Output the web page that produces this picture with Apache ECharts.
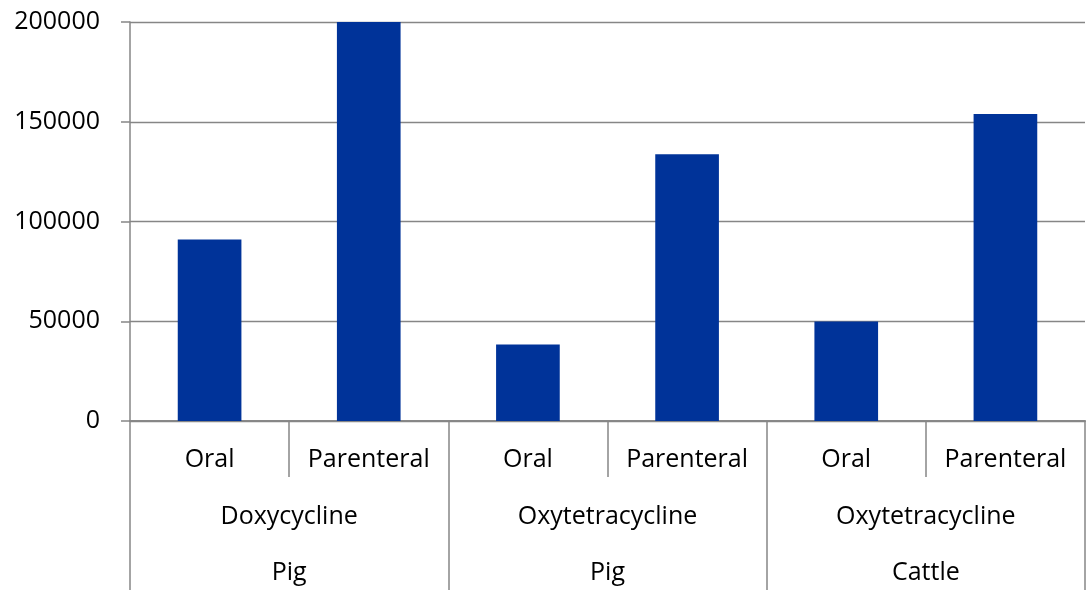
<!DOCTYPE html>
<html>
<head>
<meta charset="utf-8">
<script src="https://cdn.jsdelivr.net/npm/echarts@6/dist/echarts.min.js"></script>
<style>
  html, body { margin: 0; padding: 0; background: #fff; }
  #chart { width: 1087px; height: 595px; }
</style>
</head>
<body>
<div id="chart"></div>
<script>
// Route of administration (innermost category level)
const routes = ['Oral', 'Parenteral', 'Oral', 'Parenteral', 'Oral', 'Parenteral'];
// Active substance (middle level) and species (outer level), one per pair of bars
const substances = ['Doxycycline', 'Oxytetracycline', 'Oxytetracycline'];
const species = ['Pig', 'Pig', 'Cattle'];
// Bar values
const values = [91000, 200000, 38400, 133700, 49900, 153900];
// Value axis ticks
const yTicks = [0, 50000, 100000, 150000, 200000];

const FONT = 'Open Sans';
const LINE = '#868686';
const TEXT = '#000';

const chart = echarts.init(document.getElementById('chart'), null, { renderer: 'canvas' });

function levelAxis(data, tickLen, labelOffset, showTick) {
  return {
    type: 'category',
    data: data,
    position: 'bottom',
    gridIndex: 0,
    boundaryGap: true,
    axisLine: { show: true, lineStyle: { color: LINE, width: 1.5 } },
    axisTick: {
      show: showTick, alignWithLabel: false, interval: 0, length: tickLen,
      lineStyle: { color: LINE, width: 1.5 }
    },
    axisLabel: {
      show: true, interval: 0, margin: labelOffset, verticalAlign: 'middle',
      color: TEXT, fontFamily: FONT, fontSize: 25
    },
    splitLine: { show: false }
  };
}

chart.setOption({
  animation: false,
  backgroundColor: '#fff',
  grid: { left: 130, right: 2, top: 22, bottom: 174, containLabel: false },
  xAxis: [
    levelAxis(routes, 56, 39, true),
    levelAxis(substances, 169, 96, true),
    levelAxis(species, 169, 152, false)
  ],
  yAxis: {
    type: 'value',
    min: yTicks[0],
    max: yTicks[yTicks.length - 1],
    interval: yTicks[1] - yTicks[0],
    axisLine: { show: true, lineStyle: { color: LINE, width: 1.5 } },
    axisTick: { show: true, length: 9, inside: false, lineStyle: { color: LINE, width: 1.5 } },
    axisLabel: {
      margin: 30, color: TEXT, fontFamily: FONT, fontSize: 25,
      formatter: v => String(v)
    },
    splitLine: { show: true, lineStyle: { color: LINE, width: 1.3 } }
  },
  series: [{
    type: 'bar',
    xAxisIndex: 0,
    data: values,
    barWidth: '40%',
    itemStyle: { color: '#003399' }
  }]
});
</script>
</body>
</html>
